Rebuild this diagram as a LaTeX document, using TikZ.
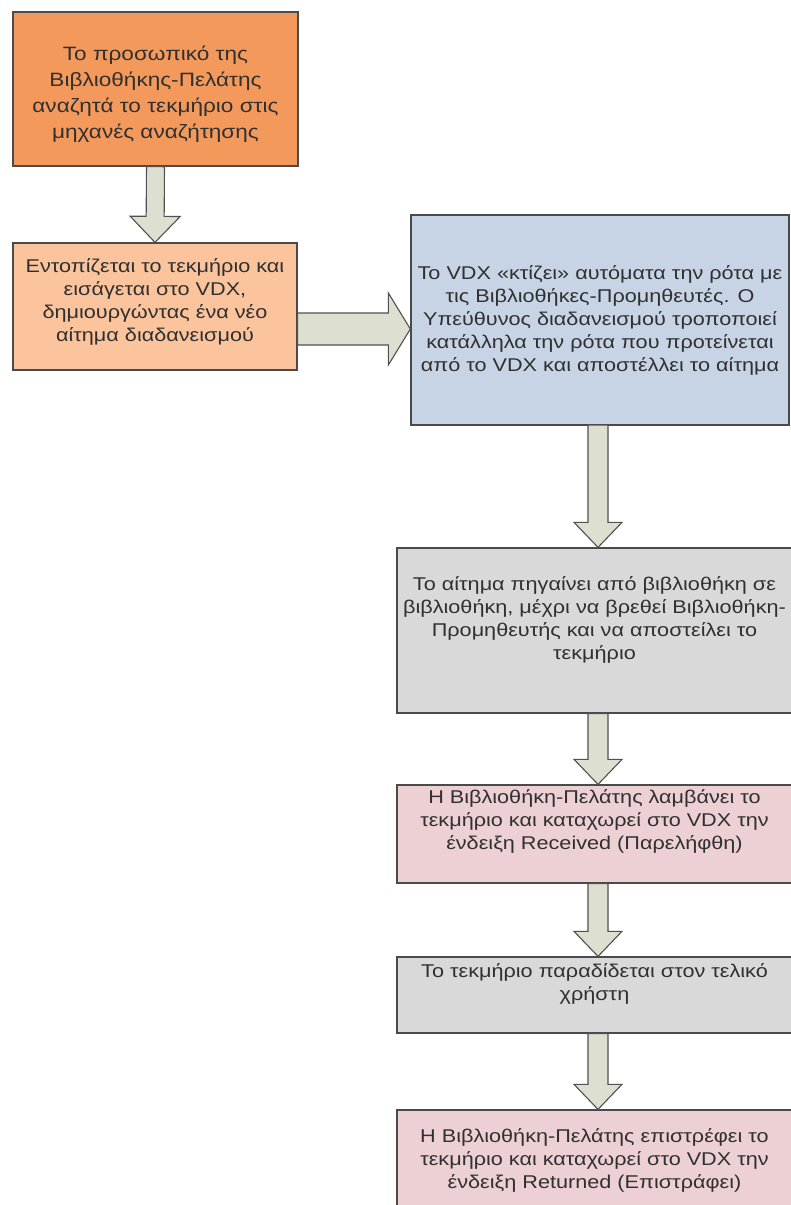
\documentclass[tikz,border=0pt]{standalone}
\usepackage{fontspec}
\setmainfont[FakeStretch=1.17]{Liberation Sans}
\usetikzlibrary{calc}

\definecolor{boxline}{HTML}{4A4A4A}
\definecolor{textgray}{HTML}{303030}
\definecolor{searchfill}{HTML}{F4995C}
\definecolor{entryfill}{HTML}{FBC49C}
\definecolor{routefill}{HTML}{C6D4E6}
\definecolor{grayfill}{HTML}{D9D9D9}
\definecolor{pinkfill}{HTML}{EDD0D4}
\definecolor{arrowfill}{HTML}{DDE0D0}
\definecolor{arrowline}{HTML}{505050}

\newcommand{\topgap}{\rule{0pt}{25pt}}

\tikzset{
  stepbox/.style={draw=boxline, line width=1.3pt, rectangle, inner sep=0pt,
    align=center, text=textgray, font=\fontsize{18.5}{23}\selectfont},
  lift/.style={execute at end node={\rule[-#1]{0pt}{0pt}}},
  arrowbody/.style={draw=arrowline, line width=1.1pt, fill=arrowfill, line join=miter},
}

% block arrow: from, to, shaft half width, head half width, head length
\newcommand{\fatarrow}[5]{%
  \coordinate (fa) at ($(#2)!#5!(#1)$);
  \draw[arrowbody] ($(#1)!#3!90:(#2)$) -- ($(fa)!#3!90:(#2)$) -- ($(fa)!#4!90:(#2)$)
    -- (#2) -- ($(fa)!#4!-90:(#2)$) -- ($(fa)!#3!-90:(#2)$) -- ($(#1)!#3!-90:(#2)$) -- cycle;
}

\begin{document}
\begin{tikzpicture}[x=1pt, y=-1pt]
  \useasboundingbox (0,0) rectangle (791,1205);

  \node[stepbox, fill=searchfill, minimum width=285pt, minimum height=154pt,
        font=\fontsize{19.3}{26}\selectfont] (search) at (155.5,89)
    {\topgap Το προσωπικό της\\Βιβλιοθήκης-Πελάτης\\αναζητά το τεκμήριο στις\\μηχανές αναζήτησης};
  \node[stepbox, fill=entryfill, minimum width=284pt, minimum height=127pt, lift=12pt] (entry) at (155,306.5)
    {Εντοπίζεται το τεκμήριο και\\εισάγεται στο VDX,\\δημιουργώντας ένα νέο\\αίτημα διαδανεισμού};
  \node[stepbox, fill=routefill, minimum width=378pt, minimum height=210pt] (route) at (600,320)
    {Το VDX «κτίζει» αυτόματα την ρότα με\\τις Βιβλιοθήκες-Προμηθευτές. Ο\\Υπεύθυνος διαδανεισμού τροποποιεί\\κατάλληλα την ρότα που προτείνεται\\από το VDX και αποστέλλει το αίτημα};
  \node[stepbox, fill=grayfill, minimum width=395pt, minimum height=165pt, lift=24pt] (transit) at (594.5,630.5)
    {Το αίτημα πηγαίνει από βιβλιοθήκη σε\\βιβλιοθήκη, μέχρι να βρεθεί Βιβλιοθήκη-\\Προμηθευτής και να αποστείλει το\\τεκμήριο};
  \node[stepbox, fill=pinkfill, minimum width=395pt, minimum height=98pt, lift=28pt] (received) at (594.5,834)
    {Η Βιβλιοθήκη-Πελάτης λαμβάνει το\\τεκμήριο και καταχωρεί στο VDX την\\ένδειξη Received (Παρελήφθη)};
  \node[stepbox, fill=grayfill, minimum width=395pt, minimum height=76pt, lift=26pt] (handover) at (594.5,995)
    {Το τεκμήριο παραδίδεται στον τελικό\\χρήστη};
  \node[stepbox, fill=pinkfill, minimum width=395pt, minimum height=110pt, lift=12pt] (returned) at (594.5,1165)
    {Η Βιβλιοθήκη-Πελάτης επιστρέφει το\\τεκμήριο και καταχωρεί στο VDX την\\ένδειξη Returned (Επιστράφει)};

  % arrows
  \coordinate (a1) at (search.south);
  \coordinate (a2) at (entry.north);
  \fatarrow{a1}{a2}{9pt}{25pt}{26pt}
  \coordinate (b1) at (entry.east |- 0,329);
  \coordinate (b2) at (route.west |- 0,329);
  \fatarrow{b1}{b2}{16pt}{36pt}{22pt}
  \coordinate (c1) at (598,425);
  \coordinate (c2) at (c1 |- transit.north);
  \fatarrow{c1}{c2}{10pt}{24pt}{25pt}
  \coordinate (d1) at (c1 |- transit.south);
  \coordinate (d2) at (c1 |- received.north);
  \fatarrow{d1}{d2}{10pt}{24pt}{25pt}
  \coordinate (e1) at (c1 |- received.south);
  \coordinate (e2) at (c1 |- handover.north);
  \fatarrow{e1}{e2}{10pt}{24pt}{25pt}
  \coordinate (f1) at (c1 |- handover.south);
  \coordinate (f2) at (c1 |- returned.north);
  \fatarrow{f1}{f2}{10pt}{24pt}{25pt}
\end{tikzpicture}
\end{document}
